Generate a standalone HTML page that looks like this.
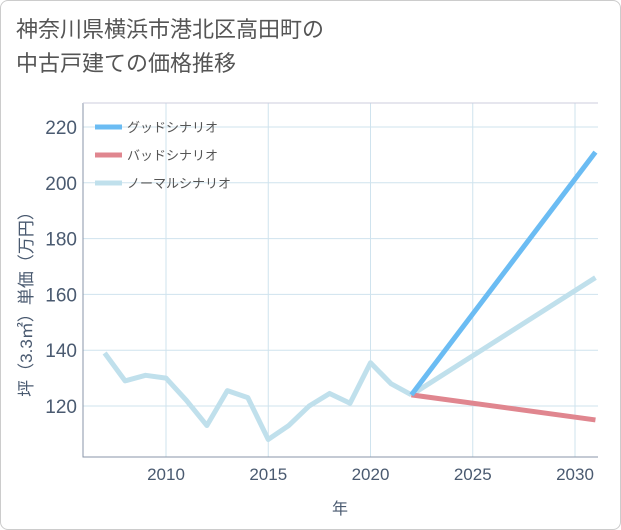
<!DOCTYPE html>
<html><head><meta charset="utf-8"><style>
body{margin:0;background:#fff;font-family:"Liberation Sans","Noto Sans CJK JP",sans-serif;}
#card{position:absolute;left:0;top:0;width:619px;height:528px;border:1px solid #ccc;border-radius:8px;background:#fff;}
#title{position:absolute;left:16px;top:13px;font-size:22px;line-height:34px;color:#555;}
</style></head><body>
<div id="card"></div>
<div id="title">神奈川県横浜市港北区高田町の<br>中古戸建ての価格推移</div>
<svg id="chart" width="621" height="530" style="position:absolute;left:0;top:0"></svg>
<script>
const years=[2007,2008,2009,2010,2011,2012,2013,2014,2015,2016,2017,2018,2019,2020,2021,2022];
const normalHist=[139,129,131,130,122,113,125.5,123,108,113,120,124.5,121,135.5,128,124];
const scenYears=[2022,2031];
const goodVals=[124,211];
const badVals=[124,115];
const normalFut=[124,166];
const xTicks=[2010,2015,2020,2025,2030];
const yTicks=[120,140,160,180,200,220];
const L=83,R=598,T=103,B=457;
const x=v=>166+(v-2010)*20.45;
const y=v=>406-(v-120)*2.79;
const svg=document.getElementById('chart');
const NS='http://www.w3.org/2000/svg';
function mk(t,a){const e=document.createElementNS(NS,t);for(const k in a)e.setAttribute(k,a[k]);svg.appendChild(e);return e;}
yTicks.forEach(v=>{
 const g=mk('line',{x1:L,x2:R,y1:y(v),y2:y(v),stroke:'#cfe3ee','stroke-width':1});
 
 
 const t=mk('text',{x:L-6,y:y(v)+7,'text-anchor':'end','font-size':19,fill:'#4a5a70'});t.textContent=v;
 
 
});
xTicks.forEach(v=>{
 const g=mk('line',{x1:x(v),x2:x(v),y1:T,y2:B,stroke:'#cfe3ee','stroke-width':1});
 
 
 const t=mk('text',{x:x(v),y:B+23,'text-anchor':'middle','font-size':17,fill:'#4a5a70'});t.textContent=v;
 
 
});
const ax=mk('path',{d:`M${L},${T}V${B}H${R}`,fill:'none',stroke:'#8a96a8','stroke-width':1});


const bx=mk('line',{x1:L,x2:R,y1:T,y2:T,stroke:'#ccd','stroke-width':1});


function line(xs,ys,c,w,name){
 const p=mk('polyline',{points:xs.map((v,i)=>x(v)+','+y(ys[i])).join(' '),fill:'none',stroke:c,'stroke-width':w,'stroke-linejoin':'round'});
 
 
}
line(years,normalHist,'#c0e0ec',5,'normal-history-line');
line(scenYears,normalFut,'#c0e0ec',5,'normal-scenario-line');
line(scenYears,badVals,'#e0868f',5,'bad-scenario-line');
line(scenYears,goodVals,'#6bbcf3',5,'good-scenario-line');
const leg=[['グッドシナリオ','#6bbcf3'],['バッドシナリオ','#e0868f'],['ノーマルシナリオ','#c0e0ec']];
leg.forEach((l,i)=>{
 const yy=127+i*28;
 const s=mk('line',{x1:95,x2:122,y1:yy,y2:yy,stroke:l[1],'stroke-width':5});
 
 
 const t=mk('text',{x:127,y:yy+5,'font-size':13,fill:'#555'});t.textContent=l[0];
 
 
});
const yt=mk('text',{transform:'translate(32,300) rotate(-90)','text-anchor':'middle','font-size':17,fill:'#4a5a70'});
yt.textContent='坪（3.3㎡）単価（万円）';


const xt=mk('text',{x:340,y:514,'text-anchor':'middle','font-size':16,fill:'#4a5a70'});
xt.textContent='年';


</script>
</body></html>
